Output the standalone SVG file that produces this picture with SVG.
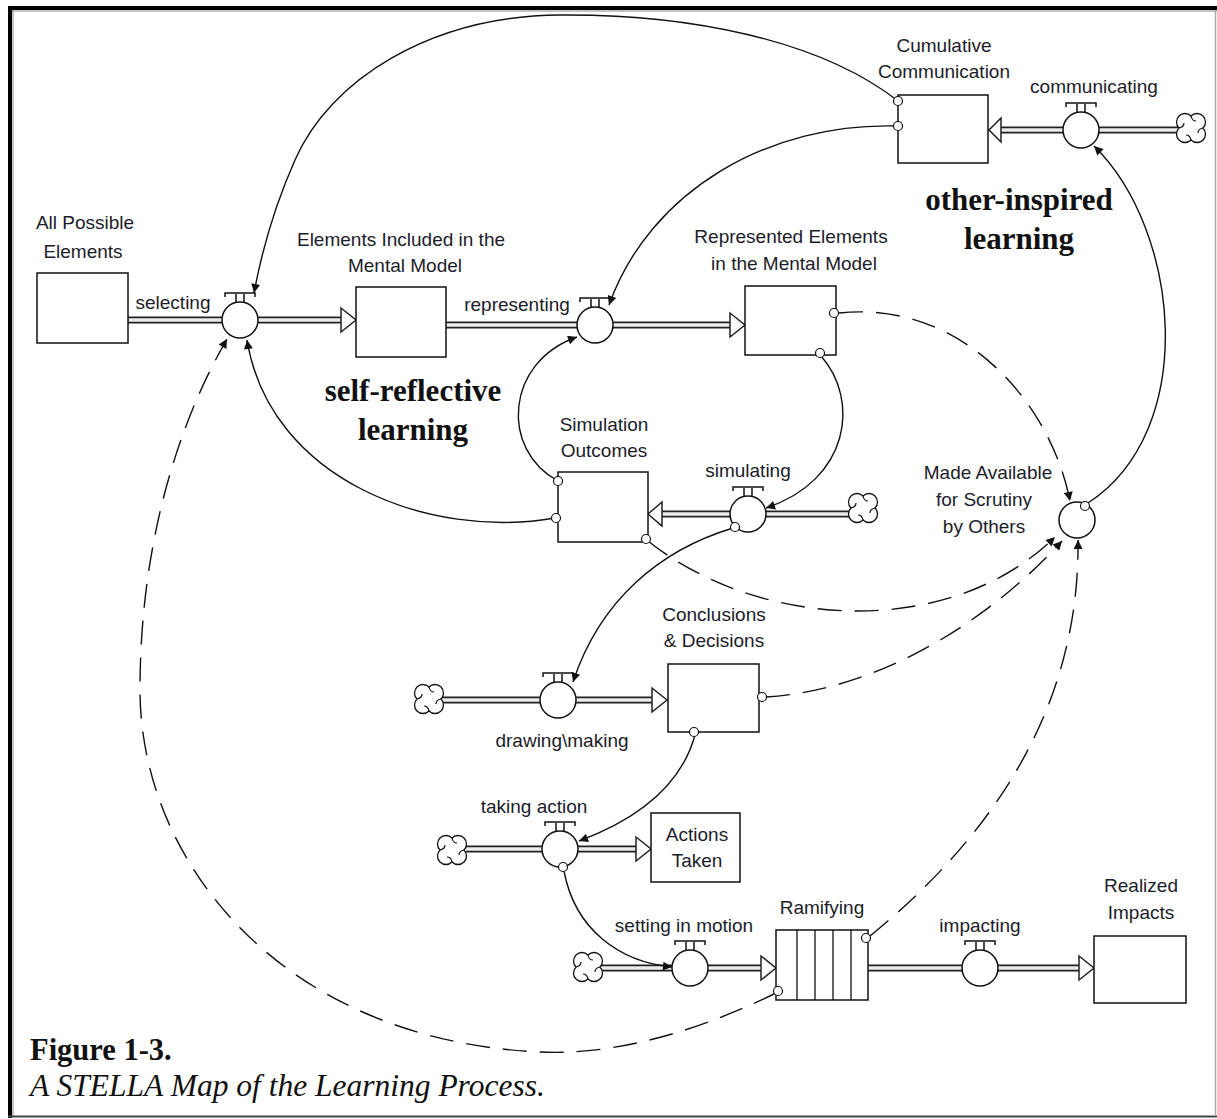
<svg xmlns="http://www.w3.org/2000/svg" width="1217" height="1119" viewBox="0 0 1217 1119">
  <style>
    .stock { fill: #fff; stroke: #111; stroke-width: 1.5; }
    .pipe-o { fill: none; stroke: #222; stroke-width: 7; }
    .pipe-i { fill: none; stroke: #ececec; stroke-width: 3.4; }
    .tri { fill: #fff; stroke: #222; stroke-width: 1.5; stroke-linejoin: miter; }
    .valve { fill: #fff; stroke: #111; stroke-width: 1.5; }
    .tbar { fill: none; stroke: #111; stroke-width: 1.5; }
    .link { fill: none; stroke: #111; stroke-width: 1.4; marker-end: url(#ah); }
    .dash { stroke-dasharray: 24 13; }
    .dot { fill: #fff; stroke: #111; stroke-width: 1.2; }
    .cloud { fill: #fff; stroke: #111; stroke-width: 1.3; }
    .curl { fill: none; stroke: #111; stroke-width: 1.2; }
    .lbl { font-family: "Liberation Sans", Arial, sans-serif; font-size: 19px; fill: #1c1c2a; text-anchor: middle; }
    .big { font-family: "Liberation Serif", "Times New Roman", serif; font-size: 31px; font-weight: bold; fill: #111; text-anchor: middle; }
    .cap { font-family: "Liberation Serif", "Times New Roman", serif; fill: #111; }
  </style>
  <defs>
    <marker id="ah" viewBox="0 0 10 10" refX="10" refY="5" markerWidth="13" markerHeight="9" markerUnits="userSpaceOnUse" orient="auto">
      <path d="M0,0 L10,5 L0,10 z" fill="#111"/>
    </marker>
    <!-- flow regulator: circle with a handle on top -->
    <g id="valve-sym">
      <path class="tbar" d="M-4,-18 V-26 M4,-18 V-26 M-15,-23 V-27 H15 V-23"/>
      <circle class="valve" r="18"/>
    </g>
    <!-- source/sink cloud -->
    <g id="cloud-sym">
      <path class="cloud" d="M-12,0 A8,8 0 0 1 0,-12 A8,8 0 0 1 12,0 A8,8 0 0 1 0,12 A8,8 0 0 1 -12,0 Z"/>
      <path class="curl" d="M0,-12 q1,5 5,5 M12,0 q-5,1 -5,5 M0,12 q-1,-5 -5,-5 M-12,0 q5,-1 5,-5"/>
    </g>
  </defs>

  <rect width="1217" height="1119" fill="#fff"/>
  <!-- frame -->
  <rect x="8" y="6" width="4" height="1112" fill="#000"/>
  <rect x="8" y="6" width="1209" height="4" fill="#000"/>
  <line x1="12" y1="11" x2="1217" y2="11" stroke="#888" stroke-width="1"/>
  <line x1="13" y1="10" x2="13" y2="1116" stroke="#888" stroke-width="1"/>
  <line x1="8" y1="1116.5" x2="1217" y2="1116.5" stroke="#444" stroke-width="2"/>
  <line x1="1215.5" y1="10" x2="1215.5" y2="1116" stroke="#aaa" stroke-width="1.5"/>

  <!-- flows (pipes) -->
  <g id="flows">
    <path class="pipe-o" d="M128,320 H341 M446,325 H730 M1178,130 H1001 M850,514 H662 M442,700 H652 M466,849 H636 M601,968 H761 M868,968 H1079"/>
    <path class="pipe-i" d="M128,320 H341 M446,325 H730 M1178,130 H1001 M850,514 H662 M442,700 H652 M466,849 H636 M601,968 H761 M868,968 H1079"/>
    <polygon class="tri" points="341,308 356,320 341,332"/>
    <polygon class="tri" points="730,313 745,325 730,337"/>
    <polygon class="tri" points="1001,118 989,130 1001,142"/>
    <polygon class="tri" points="662,502 648,514 662,526"/>
    <polygon class="tri" points="652,688 667,700 652,712"/>
    <polygon class="tri" points="636,837 651,849 636,861"/>
    <polygon class="tri" points="761,956 776,968 761,980"/>
    <polygon class="tri" points="1079,956 1094,968 1079,980"/>
  </g>

  <!-- connectors -->
  <g id="connectors">
    <path class="link" d="M898,101 C820,40 690,14 560,15 C430,16 330,80 295,160 C275,205 262,250 254,293"/>
    <path class="link" d="M898,126 C770,122 650,190 609,305"/>
    <path class="link" d="M555,518 C430,540 270,480 247,340"/>
    <path class="link" d="M558,481 C500,450 505,362 577,337"/>
    <path class="link" d="M821,356 C860,400 850,480 766,508"/>
    <path class="link" d="M733,528 C660,550 600,600 573,682"/>
    <path class="link" d="M695,735 C680,790 630,822 579,841"/>
    <path class="link" d="M564,871 C575,930 620,962 672,967"/>
    <path class="link" d="M1088,503 C1200,430 1180,230 1094,146"/>
    <path class="link dash" d="M839,313 C960,300 1050,400 1070,501"/>
    <path class="link dash" d="M648,541 C760,630 950,640 1055,537"/>
    <path class="link dash" d="M766,697 C880,690 990,620 1062,541"/>
    <path class="link dash" d="M870,936 C1000,830 1080,700 1078,540"/>
    <path class="link dash" d="M776,993 C680,1040 600,1055 540,1052 C280,1040 140,860 140,690 C140,540 180,420 227,339"/>
  </g>

  <!-- stocks -->
  <g id="all-possible-elements">
    <rect class="stock" x="37" y="273" width="91" height="70"/>
    <text class="lbl" x="85" y="229">All Possible</text>
    <text class="lbl" x="83" y="258">Elements</text>
  </g>
  <g id="elements-included">
    <rect class="stock" x="356" y="287" width="90" height="70"/>
    <text class="lbl" x="401" y="246">Elements Included in the</text>
    <text class="lbl" x="405" y="272">Mental Model</text>
  </g>
  <g id="represented-elements">
    <rect class="stock" x="745" y="286" width="91" height="69"/>
    <text class="lbl" x="791" y="243">Represented Elements</text>
    <text class="lbl" x="794" y="270">in the Mental Model</text>
  </g>
  <g id="cumulative-communication">
    <rect class="stock" x="898" y="95" width="90" height="68"/>
    <text class="lbl" x="944" y="52">Cumulative</text>
    <text class="lbl" x="944" y="78">Communication</text>
  </g>
  <g id="simulation-outcomes">
    <rect class="stock" x="558" y="472" width="90" height="70"/>
    <text class="lbl" x="604" y="431">Simulation</text>
    <text class="lbl" x="604" y="457">Outcomes</text>
  </g>
  <g id="conclusions-decisions">
    <rect class="stock" x="668" y="664" width="91" height="68"/>
    <text class="lbl" x="714" y="621">Conclusions</text>
    <text class="lbl" x="714" y="647">&amp; Decisions</text>
  </g>
  <g id="actions-taken">
    <rect class="stock" x="651" y="813" width="89" height="69"/>
    <text class="lbl" x="697" y="841">Actions</text>
    <text class="lbl" x="697" y="867">Taken</text>
  </g>
  <g id="ramifying">
    <rect class="stock" x="776" y="930" width="92" height="70"/>
    <path fill="none" stroke="#111" stroke-width="1.3" d="M797,930 V1000 M815,930 V1000 M833,930 V1000 M851,930 V1000"/>
    <text class="lbl" x="822" y="914">Ramifying</text>
  </g>
  <g id="realized-impacts">
    <rect class="stock" x="1094" y="936" width="92" height="67"/>
    <text class="lbl" x="1141" y="892">Realized</text>
    <text class="lbl" x="1141" y="919">Impacts</text>
  </g>

  <!-- flow regulators -->
  <g id="selecting">
    <use href="#valve-sym" x="240" y="320"/>
    <text class="lbl" x="173" y="309">selecting</text>
  </g>
  <g id="representing">
    <use href="#valve-sym" x="595" y="325"/>
    <text class="lbl" x="517" y="311">representing</text>
  </g>
  <g id="communicating">
    <use href="#valve-sym" x="1081" y="130"/>
    <text class="lbl" x="1094" y="93">communicating</text>
  </g>
  <g id="simulating">
    <use href="#valve-sym" x="748" y="514"/>
    <text class="lbl" x="748" y="477">simulating</text>
  </g>
  <g id="drawing-making">
    <use href="#valve-sym" x="558" y="700"/>
    <text class="lbl" x="562" y="747">drawing\making</text>
  </g>
  <g id="taking-action">
    <use href="#valve-sym" x="560" y="849"/>
    <text class="lbl" x="534" y="813">taking action</text>
  </g>
  <g id="setting-in-motion">
    <use href="#valve-sym" x="690" y="968"/>
    <text class="lbl" x="684" y="932">setting in motion</text>
  </g>
  <g id="impacting">
    <use href="#valve-sym" x="980" y="968"/>
    <text class="lbl" x="980" y="932">impacting</text>
  </g>
  <g id="made-available">
    <circle class="valve" cx="1077" cy="520" r="18"/>
    <text class="lbl" x="988" y="479">Made Available</text>
    <text class="lbl" x="984" y="506">for Scrutiny</text>
    <text class="lbl" x="984" y="533">by Others</text>
  </g>

  <!-- clouds -->
  <g id="clouds">
    <use href="#cloud-sym" x="1191" y="128"/>
    <use href="#cloud-sym" x="863" y="508"/>
    <use href="#cloud-sym" x="429" y="699"/>
    <use href="#cloud-sym" x="452" y="850"/>
    <use href="#cloud-sym" x="588" y="967"/>
  </g>

  <!-- connector origin markers -->
  <g id="link-origins">
    <circle class="dot" cx="898" cy="101" r="4.5"/>
    <circle class="dot" cx="898" cy="126" r="4.5"/>
    <circle class="dot" cx="834" cy="313" r="4.5"/>
    <circle class="dot" cx="820" cy="353" r="4.5"/>
    <circle class="dot" cx="558" cy="481" r="4.5"/>
    <circle class="dot" cx="556" cy="518" r="4.5"/>
    <circle class="dot" cx="646" cy="539" r="4.5"/>
    <circle class="dot" cx="735" cy="527" r="4.5"/>
    <circle class="dot" cx="762" cy="697" r="4.5"/>
    <circle class="dot" cx="694" cy="732" r="4.5"/>
    <circle class="dot" cx="563" cy="867" r="4.5"/>
    <circle class="dot" cx="866" cy="938" r="4.5"/>
    <circle class="dot" cx="778" cy="991" r="4.5"/>
    <circle class="dot" cx="1085" cy="506" r="4.5"/>
  </g>

  <!-- loop annotations -->
  <text class="big" x="413" y="401">self-reflective</text>
  <text class="big" x="413" y="440">learning</text>
  <text class="big" x="1019" y="210">other-inspired</text>
  <text class="big" x="1019" y="249">learning</text>

  <!-- caption -->
  <text class="cap" x="30" y="1060" font-size="30.5" font-weight="bold">Figure 1-3.</text>
  <text class="cap" x="30" y="1096" font-size="31.5" font-style="italic">A STELLA Map of the Learning Process.</text>
</svg>
